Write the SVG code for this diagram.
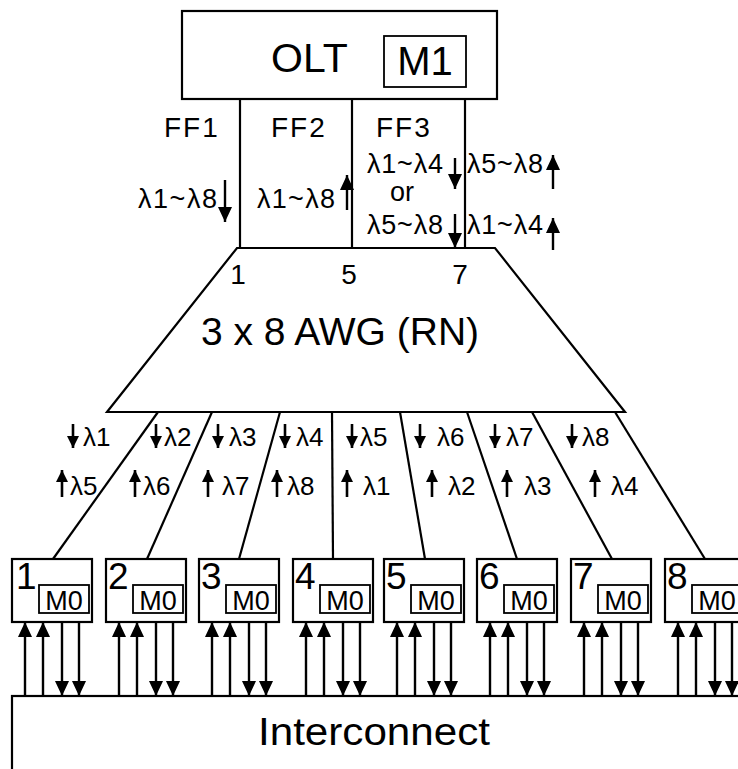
<svg xmlns="http://www.w3.org/2000/svg" width="738" height="769" viewBox="0 0 738 769">
<style>
text{font-family:"Liberation Sans",Arial,sans-serif;fill:#000}
.ln{stroke:#000;stroke-width:2.2;fill:none}
.box{stroke:#000;stroke-width:2.2;fill:#fff}
.ib{stroke:#000;stroke-width:1.8;fill:#fff}
.ar{stroke:#000;stroke-width:2.4;fill:none;marker-end:url(#ah)}
.as{stroke:#000;stroke-width:2.6;fill:none;marker-end:url(#ahs)}
.big{font-size:39px}
.ff{font-size:28px;letter-spacing:2px}
.lam{font-size:27px}
.sl{font-size:26px}
.num{font-size:37px}
.port{font-size:28px;text-anchor:middle}
.m0{font-size:27px;text-anchor:middle}
</style>
<defs>
<marker id="ah" markerUnits="userSpaceOnUse" markerWidth="15" markerHeight="14" viewBox="0 0 15 14" refX="15" refY="7" orient="auto"><path d="M0,0 L15,7 L0,14 z" fill="#000"/></marker>
<marker id="ahs" markerUnits="userSpaceOnUse" markerWidth="12" markerHeight="12" viewBox="0 0 12 12" refX="12" refY="6" orient="auto"><path d="M0,0 L12,6 L0,12 z" fill="#000"/></marker>
</defs>

<g id="olt">
<rect class="box" x="182" y="11" width="315" height="88"/>
<text x="271" y="72" font-size="41">OLT</text>
<rect class="ib" x="384" y="36" width="82" height="51"/>
<text x="425" y="75" font-size="40" text-anchor="middle">M1</text>
</g>

<g id="awg">
<polygon class="box" points="237,248 495,248 625,412 107,412"/>
<text x="340" y="345" class="big" text-anchor="middle">3 x 8 AWG (RN)</text>
<text class="port" x="238" y="284">1</text>
<text class="port" x="349" y="284">5</text>
<text class="port" x="460" y="284">7</text>
</g>

<g id="interconnect">
<rect class="box" x="12" y="696" width="740" height="100"/>
<text x="374" y="745" font-size="39" text-anchor="middle" textLength="232" lengthAdjust="spacingAndGlyphs">Interconnect</text>
</g>

<g id="onu1"><rect class="box" x="12" y="559" width="80" height="63"/><text class="num" x="16" y="589">1</text><rect class="ib" x="39" y="585" width="50" height="28"/><text class="m0" x="64" y="610">M0</text></g>
<g id="onu2"><rect class="box" x="106" y="559" width="80" height="63"/><text class="num" x="108" y="589">2</text><rect class="ib" x="133" y="585" width="50" height="28"/><text class="m0" x="158" y="610">M0</text></g>
<g id="onu3"><rect class="box" x="199" y="559" width="80" height="63"/><text class="num" x="201" y="589">3</text><rect class="ib" x="226" y="585" width="50" height="28"/><text class="m0" x="251" y="610">M0</text></g>
<g id="onu4"><rect class="box" x="293" y="559" width="80" height="63"/><text class="num" x="295" y="589">4</text><rect class="ib" x="320" y="585" width="50" height="28"/><text class="m0" x="345" y="610">M0</text></g>
<g id="onu5"><rect class="box" x="384" y="559" width="80" height="63"/><text class="num" x="386" y="589">5</text><rect class="ib" x="411" y="585" width="50" height="28"/><text class="m0" x="436" y="610">M0</text></g>
<g id="onu6"><rect class="box" x="477" y="559" width="80" height="63"/><text class="num" x="479" y="589">6</text><rect class="ib" x="504" y="585" width="50" height="28"/><text class="m0" x="529" y="610">M0</text></g>
<g id="onu7"><rect class="box" x="571" y="559" width="80" height="63"/><text class="num" x="573" y="589">7</text><rect class="ib" x="598" y="585" width="50" height="28"/><text class="m0" x="623" y="610">M0</text></g>
<g id="onu8"><rect class="box" x="665" y="559" width="80" height="63"/><text class="num" x="667" y="589">8</text><rect class="ib" x="692" y="585" width="50" height="28"/><text class="m0" x="717" y="610">M0</text></g>

<g id="labels">
<text class="ff" x="164" y="137">FF1</text>
<text class="ff" x="271" y="137">FF2</text>
<text class="ff" x="376" y="137">FF3</text>
<text class="lam" x="138" y="208" textLength="79">λ1~λ8</text>
<text class="lam" x="257" y="208" textLength="78">λ1~λ8</text>
<text class="lam" x="367" y="173" textLength="76">λ1~λ4</text>
<text class="lam" x="390" y="201">or</text>
<text class="lam" x="367" y="234" textLength="76">λ5~λ8</text>
<text class="lam" x="467" y="173" textLength="76">λ5~λ8</text>
<text class="lam" x="467" y="234" textLength="76">λ1~λ4</text>

<text class="sl" x="83" y="446">λ1</text>
<text class="sl" x="164" y="446">λ2</text>
<text class="sl" x="229" y="446">λ3</text>
<text class="sl" x="296" y="446">λ4</text>
<text class="sl" x="360" y="446">λ5</text>
<text class="sl" x="437" y="446">λ6</text>
<text class="sl" x="506" y="446">λ7</text>
<text class="sl" x="582" y="446">λ8</text>

<text class="sl" x="70" y="495">λ5</text>
<text class="sl" x="143" y="495">λ6</text>
<text class="sl" x="222" y="495">λ7</text>
<text class="sl" x="287" y="495">λ8</text>
<text class="sl" x="363" y="495">λ1</text>
<text class="sl" x="448" y="495">λ2</text>
<text class="sl" x="524" y="495">λ3</text>
<text class="sl" x="611" y="495">λ4</text>
</g>

<g id="connectors">
<line class="ln" x1="240" y1="99" x2="240" y2="248"/>
<line class="ln" x1="352" y1="99" x2="352" y2="248"/>
<line class="ln" x1="465" y1="99" x2="465" y2="248"/>

<line class="ar" x1="225" y1="180" x2="225" y2="222"/>
<line class="ar" x1="347" y1="210" x2="347" y2="175"/>
<line class="ar" x1="455" y1="158" x2="455" y2="189"/>
<line class="ar" x1="455" y1="214" x2="455" y2="248"/>
<line class="ar" x1="553" y1="189" x2="553" y2="155"/>
<line class="ar" x1="553" y1="250" x2="553" y2="218"/>

<line class="ln" x1="158" y1="412" x2="53" y2="559"/>
<line class="ln" x1="212" y1="412" x2="147" y2="559"/>
<line class="ln" x1="280" y1="412" x2="239" y2="559"/>
<line class="ln" x1="332" y1="412" x2="333" y2="559"/>
<line class="ln" x1="400" y1="412" x2="425" y2="559"/>
<line class="ln" x1="467" y1="412" x2="517" y2="559"/>
<line class="ln" x1="532" y1="412" x2="612" y2="559"/>
<line class="ln" x1="615" y1="412" x2="705" y2="559"/>

<line class="as" x1="73" y1="424" x2="73" y2="448"/>
<line class="as" x1="156" y1="424" x2="156" y2="448"/>
<line class="as" x1="218" y1="424" x2="218" y2="448"/>
<line class="as" x1="285" y1="424" x2="285" y2="448"/>
<line class="as" x1="352" y1="424" x2="352" y2="448"/>
<line class="as" x1="420" y1="424" x2="420" y2="448"/>
<line class="as" x1="495" y1="424" x2="495" y2="448"/>
<line class="as" x1="572" y1="424" x2="572" y2="448"/>

<line class="as" x1="62" y1="497" x2="62" y2="470"/>
<line class="as" x1="135" y1="497" x2="135" y2="470"/>
<line class="as" x1="208" y1="497" x2="208" y2="470"/>
<line class="as" x1="277" y1="497" x2="277" y2="470"/>
<line class="as" x1="347" y1="497" x2="347" y2="470"/>
<line class="as" x1="432" y1="497" x2="432" y2="470"/>
<line class="as" x1="507" y1="497" x2="507" y2="470"/>
<line class="as" x1="595" y1="497" x2="595" y2="470"/>

<line class="ar" x1="25" y1="696" x2="25" y2="622"/><line class="ar" x1="43" y1="696" x2="43" y2="622"/><line class="ar" x1="62" y1="622" x2="62" y2="696"/><line class="ar" x1="79" y1="622" x2="79" y2="696"/>
<line class="ar" x1="119" y1="696" x2="119" y2="622"/><line class="ar" x1="137" y1="696" x2="137" y2="622"/><line class="ar" x1="156" y1="622" x2="156" y2="696"/><line class="ar" x1="173" y1="622" x2="173" y2="696"/>
<line class="ar" x1="212" y1="696" x2="212" y2="622"/><line class="ar" x1="230" y1="696" x2="230" y2="622"/><line class="ar" x1="249" y1="622" x2="249" y2="696"/><line class="ar" x1="266" y1="622" x2="266" y2="696"/>
<line class="ar" x1="306" y1="696" x2="306" y2="622"/><line class="ar" x1="324" y1="696" x2="324" y2="622"/><line class="ar" x1="343" y1="622" x2="343" y2="696"/><line class="ar" x1="360" y1="622" x2="360" y2="696"/>
<line class="ar" x1="397" y1="696" x2="397" y2="622"/><line class="ar" x1="415" y1="696" x2="415" y2="622"/><line class="ar" x1="434" y1="622" x2="434" y2="696"/><line class="ar" x1="451" y1="622" x2="451" y2="696"/>
<line class="ar" x1="490" y1="696" x2="490" y2="622"/><line class="ar" x1="508" y1="696" x2="508" y2="622"/><line class="ar" x1="527" y1="622" x2="527" y2="696"/><line class="ar" x1="544" y1="622" x2="544" y2="696"/>
<line class="ar" x1="584" y1="696" x2="584" y2="622"/><line class="ar" x1="602" y1="696" x2="602" y2="622"/><line class="ar" x1="621" y1="622" x2="621" y2="696"/><line class="ar" x1="638" y1="622" x2="638" y2="696"/>
<line class="ar" x1="678" y1="696" x2="678" y2="622"/><line class="ar" x1="696" y1="696" x2="696" y2="622"/><line class="ar" x1="715" y1="622" x2="715" y2="696"/><line class="ar" x1="732" y1="622" x2="732" y2="696"/>
</g>
</svg>
